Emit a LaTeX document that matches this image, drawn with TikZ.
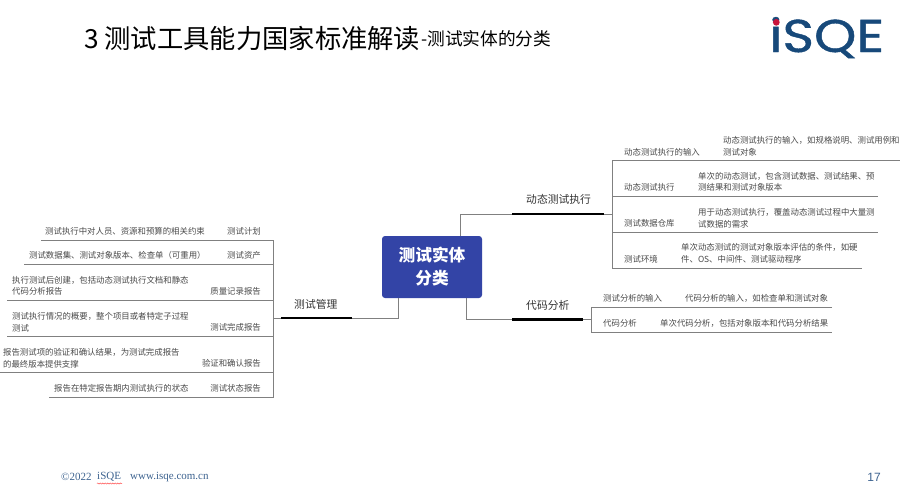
\documentclass[tikz,border=0pt]{standalone}
\usepackage{fontspec}
\setmainfont{Noto Sans CJK SC}
\newfontfamily\footfont{Liberation Serif}
\newfontfamily\logofont[FakeBold=0.9]{Poppins}
\newfontfamily\numfont{Liberation Sans}
\usetikzlibrary{decorations.pathmorphing}
\definecolor{txtgray}{HTML}{4A4A4A}
\definecolor{linegray}{HTML}{808080}
\definecolor{hubblue}{HTML}{3344A6}
\definecolor{logoblue}{HTML}{17497A}
\definecolor{logored}{HTML}{C8143C}
\definecolor{footblue}{HTML}{3D6390}
\tikzset{
  x=1pt,y=-1pt,
  leaf/.style={inner sep=0pt,text=txtgray,font=\fontsize{8.4}{11.6}\selectfont,align=left},
  lleft/.style={leaf,anchor=west},
  lright/.style={leaf,anchor=east},
  branch/.style={inner sep=0pt,anchor=west,text=black!80,font=\fontsize{10.8}{13}\selectfont},
  conn/.style={draw=linegray,line width=0.9pt},
  rule/.style={draw=linegray,line width=0.85pt},
  heavy/.style={draw=black,line width=2.6pt},
  foot/.style={inner sep=0pt,anchor=west,text=footblue,font=\fontsize{11}{12}\footfont},
}
\begin{document}
\begin{tikzpicture}
\useasboundingbox (0,0) rectangle (900,499);
\fill[white] (0,0) rectangle (900,499);

% title
\node[inner sep=0pt,anchor=west,text=black] (title) at (84,38) {\fontsize{26.3}{28}\selectfont 3 测试工具能力国家标准解读};
\node[inner sep=0pt,anchor=west,text=black] (subtitle) at (421,39) {\fontsize{17.7}{20}\selectfont -测试实体的分类};

% logo
\node[inner sep=0pt,anchor=base west,text=logoblue,xscale=1.17] (logo) at (769,52) {\fontsize{46}{50}\logofont iSQE};
\fill[logored] (776.3,22.3) circle (3.4);

% hub
\node[draw=none,fill=hubblue,rounded corners=3pt,minimum width=100pt,minimum height=62pt,inner sep=0pt,text=white,align=center,font=\fontsize{16.7}{23}\selectfont\bfseries] (hub) at (432,267) {测试实体\\分类};

% anchor points
\coordinate (hubT) at (460,236);
\coordinate (hubBR) at (466,298);
\coordinate (hubBL) at (398,298);
\coordinate (dynA) at (512,214);
\coordinate (dynB) at (604,214);
\coordinate (dynJ) at (612,214);
\coordinate (codeA) at (512,319.5);
\coordinate (codeB) at (583,319.5);
\coordinate (codeJ) at (591,319.5);
\coordinate (mgmtA) at (352,318);
\coordinate (mgmtB) at (281,318);
\coordinate (mgmtJ) at (273,318);

% connectors from hub
\draw[conn] (hubT) |- (dynA);
\draw[heavy] (dynA) -- (dynB);
\draw[conn] (dynB) -- (dynJ);
\draw[conn] (hubBR) |- (codeA);
\draw[heavy] (codeA) -- (codeB);
\draw[conn] (codeB) -- (codeJ);
\draw[conn] (hubBL) |- (mgmtA);
\draw[heavy] (mgmtA) -- (mgmtB);
\draw[conn] (mgmtB) -- (mgmtJ);

% branch labels
\node[branch] (dyn) at (526,199) {动态测试执行};
\node[branch] (code) at (526,305) {代码分析};
\node[branch] (mgmt) at (294,304) {测试管理};

% dynamic rules
\coordinate (d1) at (612,160.5); \coordinate (d1e) at (900,160.5);
\coordinate (d2) at (612,196); \coordinate (d2e) at (878,196);
\coordinate (d3) at (612,232); \coordinate (d3e) at (878,232);
\coordinate (d4) at (612,268); \coordinate (d4e) at (862,268);
\draw[rule] (d1e) -- (d1) -- (d4) -- (d4e);
\draw[rule] (d2) -- (d2e);
\draw[rule] (d3) -- (d3e);

% code rules
\coordinate (c1) at (591,307); \coordinate (c1e) at (832,307);
\coordinate (c2) at (591,332); \coordinate (c2e) at (832,332);
\draw[rule] (c1e) -- (c1) -- (c2) -- (c2e);

% management rules
\coordinate (m1) at (273,240); \coordinate (m1e) at (41,240);
\coordinate (m2) at (273,264); \coordinate (m2e) at (24,264);
\coordinate (m3) at (273,300); \coordinate (m3e) at (7,300);
\coordinate (m4) at (273,336); \coordinate (m4e) at (7,336);
\coordinate (m5) at (273,372); \coordinate (m5e) at (0,372);
\coordinate (m6) at (273,397); \coordinate (m6e) at (49,397);
\draw[rule] (m1e) -- (m1) -- (m6) -- (m6e);
\draw[rule] (m2) -- (m2e);
\draw[rule] (m3) -- (m3e);
\draw[rule] (m4) -- (m4e);
\draw[rule] (m5) -- (m5e);

% dynamic leaves
\node[lleft] (dl1) at (624,152) {动态测试执行的输入};
\node[lleft] (dd1) at (723,146) {动态测试执行的输入，如规格说明、测试用例和\\测试对象};
\node[lleft] (dl2) at (624,187) {动态测试执行};
\node[lleft] (dd2) at (698,182) {单次的动态测试，包含测试数据、测试结果、预\\测结果和测试对象版本};
\node[lleft] (dl3) at (624,223) {测试数据仓库};
\node[lleft] (dd3) at (698,218) {用于动态测试执行，覆盖动态测试过程中大量测\\试数据的需求};
\node[lleft] (dl4) at (624,259) {测试环境};
\node[lleft] (dd4) at (681,253) {单次动态测试的测试对象版本评估的条件，如硬\\件、OS、中间件、测试驱动程序};

% code leaves
\node[lleft] (cl1) at (603,298) {测试分析的输入};
\node[lleft] (cd1) at (685,298) {代码分析的输入，如检查单和测试对象};
\node[lleft] (cl2) at (603,323) {代码分析};
\node[lleft] (cd2) at (660,323) {单次代码分析，包括对象版本和代码分析结果};

% management leaves
\node[lright] (ml1) at (261,231) {测试计划};
\node[lleft] (md1) at (45,231) {测试执行中对人员、资源和预算的相关约束};
\node[lright] (ml2) at (261,255) {测试资产};
\node[lleft] (md2) at (29,255) {测试数据集、测试对象版本、检查单（可重用）};
\node[lright] (ml3) at (261,291.5) {质量记录报告};
\node[lleft] (md3) at (12,286) {执行测试后创建，包括动态测试执行文档和静态\\代码分析报告};
\node[lright] (ml4) at (261,327.5) {测试完成报告};
\node[lleft] (md4) at (12,322) {测试执行情况的概要，整个项目或者特定子过程\\测试};
\node[lright] (ml5) at (261,363.5) {验证和确认报告};
\node[lleft] (md5) at (3,358) {报告测试项的验证和确认结果，为测试完成报告\\的最终版本提供支撑};
\node[lright] (ml6) at (261,388) {测试状态报告};
\node[lleft] (md6) at (54,388) {报告在特定报告期内测试执行的状态};

% footer
\node[foot] (f1) at (61,477) {©2022};
\node[foot] (f2) at (97,477) {iSQE};
\node[foot] (f3) at (130,477) {www.isqe.com.cn};
\coordinate (wa) at (97,483.5); \coordinate (wb) at (122,483.5);
\draw[red!70!white,line width=0.5pt,decorate,decoration={snake,amplitude=0.6pt,segment length=2.5pt}] (wa) -- (wb);
\node[inner sep=0pt,anchor=east,text=footblue] (pg) at (881,477) {\fontsize{12}{14}\numfont 17};
\end{tikzpicture}
\end{document}
